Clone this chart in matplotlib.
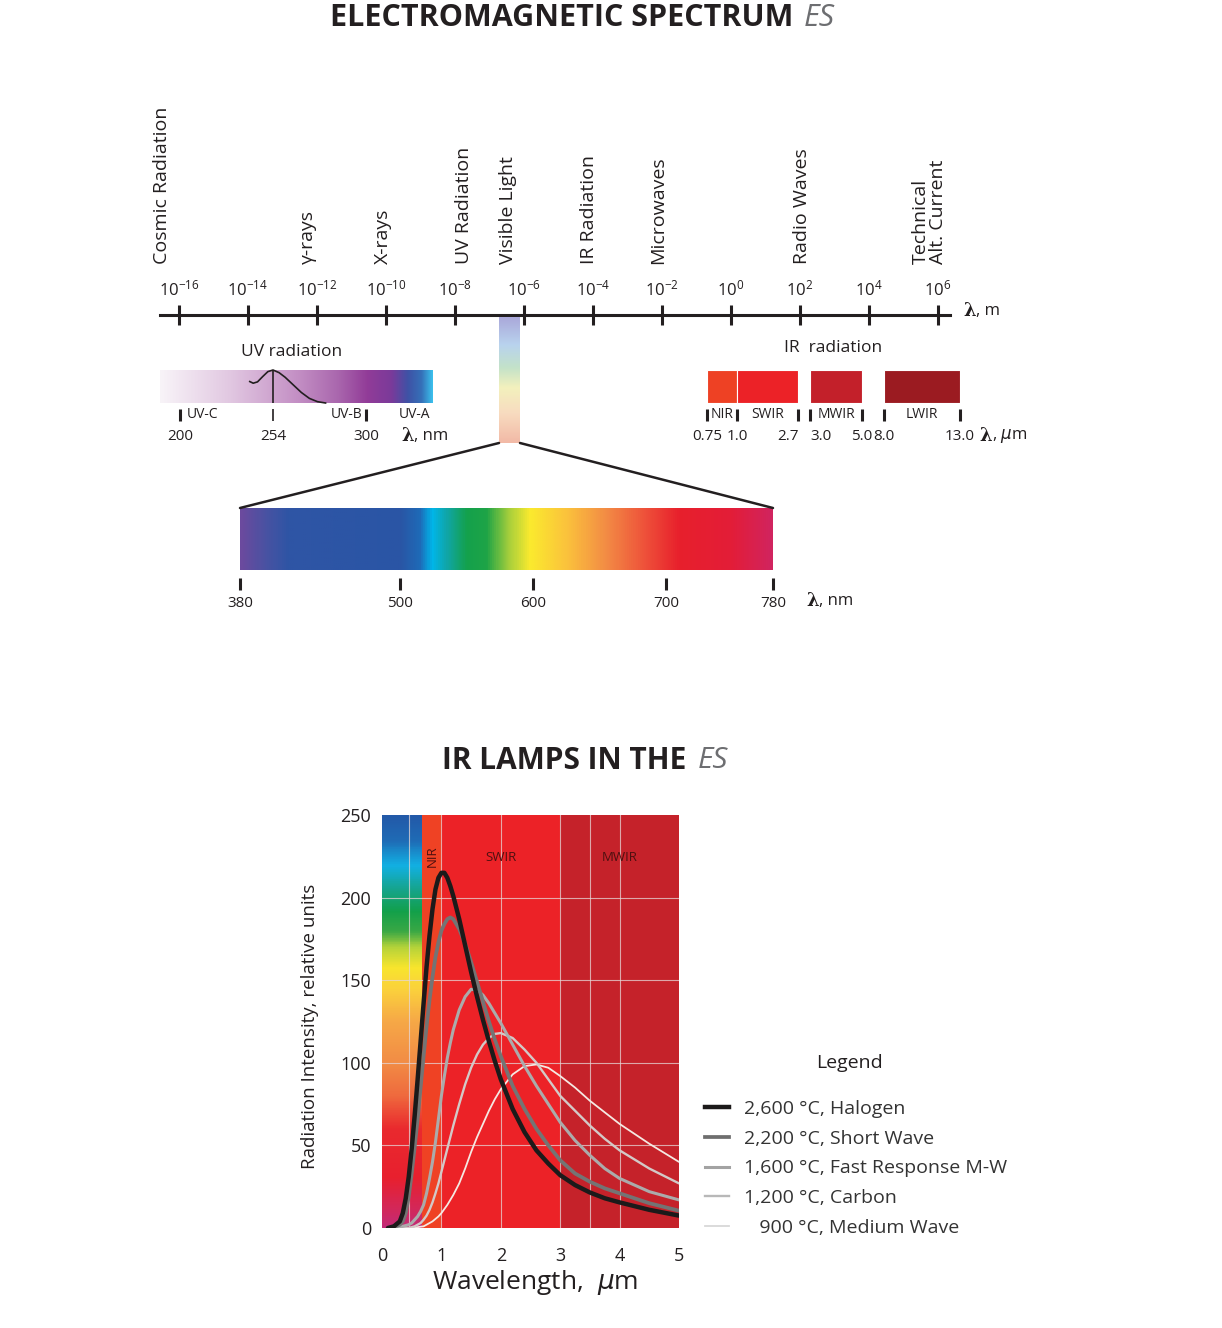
import numpy as np
import matplotlib
matplotlib.use("Agg")
import matplotlib.pyplot as plt
from matplotlib.colors import LinearSegmentedColormap
from matplotlib.patches import ConnectionPatch
from matplotlib.lines import Line2D

plt.rcParams["font.family"] = ["Open Sans", "DejaVu Sans"]

W, H = 1222, 1328
INK = "#231f20"

# ---- spectrum scale (lambda in m, decades)
scale_exponents = [-16, -14, -12, -10, -8, -6, -4, -2, 0, 2, 4, 6]
region_names = ["Cosmic Radiation", "γ-rays", "X-rays", "UV Radiation", "Visible Light",
                "IR Radiation", "Microwaves", "Radio Waves", "Technical\nAlt. Current"]
region_exponents = [-16.5, -12.25, -10.1, -7.75, -6.45, -4.1, -2.1, 2.05, 5.75]

# ---- UV detail
uv_ticks_nm = [200, 254, 300]
uv_band_names = ["UV-C", "UV-B", "UV-A"]
uv_band_nm = [204, 298, 326]
uv_peak_nm = 254
uv_lamp_nm = [240.5, 242.5, 245, 248, 251, 254, 257, 260, 264, 268, 272, 276, 280]
uv_lamp_rel = [0.65, 0.6, 0.64, 0.8, 0.95, 1.0, 0.92, 0.78, 0.55, 0.32, 0.14, 0.04, 0.0]

# ---- IR detail (um)
ir_band_names = ["NIR", "SWIR", "MWIR", "LWIR"]
ir_band_lo = [0.75, 1.0, 3.0, 8.0]
ir_band_hi = [1.0, 2.7, 5.0, 13.0]
ir_ticks_um = [0.75, 1.0, 2.7, 3.0, 5.0, 8.0, 13.0]
ir_tick_labels = ["0.75", "1.0", "2.7", "3.0", "5.0", "8.0", "13.0"]

# ---- visible light (nm)
vis_ticks_nm = [380, 500, 600, 700, 780]

# ---- IR lamps (wavelength um, relative intensity)
lamp_x = [0.1, 0.2, 0.3, 0.35, 0.4, 0.45, 0.5, 0.55, 0.6, 0.65,
          0.7, 0.75, 0.8, 0.85, 0.9, 0.95, 1.0, 1.05, 1.1, 1.15,
          1.2, 1.3, 1.4, 1.5, 1.6, 1.7, 1.8, 1.9, 2.0, 2.2,
          2.4, 2.6, 2.8, 3.0, 3.25, 3.5, 3.75, 4.0, 4.5, 5.0]
halogen_2600 = [0, 1, 4, 9, 18, 31, 48, 68, 90, 113,
                136, 158, 177, 193, 205, 212, 215, 215, 212, 207,
                201, 187, 171, 155, 140, 126, 113, 101, 90, 72,
                58, 47, 39, 32, 26, 21.5, 18, 15.5, 11, 7.5]
short_wave_2200 = [0, 0.5, 2, 4, 9, 19, 33, 49, 66, 85,
                   104, 122, 138, 152, 164, 173, 180, 184, 187, 188,
                   187, 181, 172, 161, 149, 137, 125, 114, 104, 86,
                   72, 60, 50, 41, 33, 28, 24, 21, 15, 10.5]
fast_mw_1600 = [0, 0, 0.5, 1, 1.5, 2, 3, 5, 7, 10,
                14, 21, 30, 40, 52, 66, 80, 92, 103, 112,
                120, 132, 140, 144.5, 144, 141, 136, 130, 124, 111,
                98, 86, 75, 64, 53, 44, 36, 30, 22, 17]
carbon_1200 = [0, 0, 0, 0, 0, 0, 0.5, 1, 2, 3,
               5, 7.5, 11, 15.5, 21, 27, 34, 41, 48, 55,
               62, 75, 87, 97, 105, 111, 115, 117.5, 118, 115,
               108, 100, 90, 80, 71, 62, 54, 47, 36, 27]
medium_wave_900 = [0, 0, 0, 0, 0, 0, 0, 0, 0.5, 0.8,
                   1, 2, 3, 4, 5.5, 7, 9, 11.5, 14, 17,
                   20, 27, 36, 46, 55, 63, 71, 78, 84, 93,
                   98, 99, 97, 92, 85, 77, 70, 63, 51, 40]
lamp_labels = ["2,600 °C, Halogen", "2,200 °C, Short Wave", "1,600 °C, Fast Response M-W",
               "1,200 °C, Carbon", "   900 °C, Medium Wave"]

lamp_band_names = ["NIR", "SWIR", "MWIR"]
lamp_band_lo = [0.68, 1.0, 3.0]
lamp_band_hi = [1.0, 3.0, 5.0]
lamp_band_label_x = [0.84, 2.0, 4.0]
grid_x = [0.45, 1, 2, 3, 3.5, 4]
grid_y = [50, 100, 150, 200]

# ---- layout helpers (pixel boxes)
UV_KNOTS_NM = [189, 200, 254, 300, 336]
UV_KNOTS_PX = [0, 20, 113, 206, 273]
IR_KNOTS_PX = [0, 30, 91, 103, 154, 176, 252]


def box(x0, y0, x1, y1):
    return [x0 / W, 1 - y1 / H, (x1 - x0) / W, (y1 - y0) / H]


def piecewise(src, dst):
    return (lambda v: np.interp(v, src, dst), lambda v: np.interp(v, dst, src))


def gradient_ax(fig, rect, stops, vertical=False):
    ax = fig.add_axes(rect)
    cmap = LinearSegmentedColormap.from_list("g", stops)
    ramp = np.linspace(0, 1, 512)
    img = ramp[:, None] if vertical else ramp[None, :]
    ax.imshow(img, cmap=cmap, aspect="auto", origin="upper" if vertical else "lower",
              extent=(0, 1, 0, 1))
    ax.set_axis_off()
    return ax


def lam_label(fig, px, py, unit, size=13):
    fig.text(px / W, 1 - py / H, "λ", family="DejaVu Serif", fontweight="bold",
             fontsize=size, ha="right", va="center", color=INK)
    fig.text(px / W, 1 - py / H, unit, fontsize=size - 1, ha="left", va="center", color=INK)


def clean(ax, keep=()):
    for s in ["left", "right", "top", "bottom"]:
        if s not in keep:
            ax.spines[s].set_visible(False)
    ax.patch.set_alpha(0)
    ax.set_yticks([])


fig = plt.figure(figsize=(W / 100, H / 100), dpi=100)

# titles
fig.text(793 / W, 1 - 18 / H, "ELECTROMAGNETIC SPECTRUM", ha="right", va="center",
         fontsize=22, fontweight="bold", color=INK)
fig.text(804 / W, 1 - 18 / H, "ES", ha="left", va="center", fontsize=22,
         style="italic", color="#6d6e71")
fig.text(686 / W, 1 - 761 / H, "IR LAMPS IN THE", ha="right", va="center",
         fontsize=21.5, fontweight="bold", color=INK)
fig.text(698 / W, 1 - 761 / H, "ES", ha="left", va="center", fontsize=21.5,
         style="italic", color="#6d6e71")

# ---- main log scale
ax_s = fig.add_axes(box(160, 315, 950, 330))
clean(ax_s, keep=("top",))
ax_s.spines["top"].set_linewidth(2.2)
ax_s.spines["top"].set_color(INK)
ax_s.set_xlim(-16.55, 6.35)
ax_s.xaxis.tick_top()
ax_s.set_xticks(scale_exponents)
ax_s.set_xticklabels([rf"$\mathregular{{10^{{{e}}}}}$" for e in scale_exponents])
ax_s.tick_params(axis="x", direction="inout", length=14, width=2.2, pad=4,
                 labelsize=12, color=INK, labelcolor=INK)
for name, e in zip(region_names, region_exponents):
    ax_s.annotate(name, xy=(e, 1), xycoords=("data", "axes fraction"), xytext=(0, 37),
                  textcoords="offset points", rotation=90, ha="center", va="bottom",
                  ma="left", fontsize=14, color=INK, linespacing=0.95)
lam_label(fig, 976, 311, ", m")

# ---- UV detail
gradient_ax(fig, box(160, 370, 433, 403),
            [(0, "#f8f4f8"), (0.25, "#e2c9e2"), (0.5, "#c490c5"), (0.65, "#aa68ae"),
             (0.76, "#923c98"), (0.85, "#7a3a9a"), (0.91, "#3f52a6"), (0.96, "#3570b8"),
             (1.0, "#3bbfec")])
ax_uv = fig.add_axes(box(160, 370, 433, 403))
clean(ax_uv)
ax_uv.set_xscale("function", functions=piecewise(UV_KNOTS_NM, UV_KNOTS_PX))
ax_uv.plot(uv_lamp_nm, uv_lamp_rel, color=INK, lw=1.2, clip_on=False)
ax_uv.axvline(uv_peak_nm, color=INK, lw=1.2)
ax_uv.set_xlim(189, 336)
ax_uv.set_ylim(0, 1)
ax_uv.spines["bottom"].set_position(("outward", 4))
ax_uv.set_xticks(uv_ticks_nm)
ax_uv.set_xticklabels([str(t) for t in uv_ticks_nm])
ax_uv.tick_params(axis="x", direction="out", length=8.6, width=2.2, pad=6,
                  labelsize=11, color=INK, labelcolor=INK)
ax_uv.xaxis.get_major_ticks()[1].tick1line.set_markeredgewidth(1.2)
for name, nm, ha in zip(uv_band_names, uv_band_nm, ["left", "right", "center"]):
    ax_uv.annotate(name, xy=(nm, 0), xycoords=("data", "axes fraction"), xytext=(0, -8),
                   textcoords="offset points", ha=ha, va="center", fontsize=10, color=INK)
ax_uv.annotate("UV radiation", xy=(263, 1), xycoords=("data", "axes fraction"),
               xytext=(0, 13), textcoords="offset points", ha="center", va="center",
               fontsize=12.5, color=INK)
lam_label(fig, 414, 436, ", nm")

# ---- IR detail
ax_ir = fig.add_axes(box(707, 370, 960, 403))
clean(ax_ir)
fwd_ir, inv_ir = piecewise(ir_ticks_um, IR_KNOTS_PX)
ax_ir.set_xscale("function", functions=(fwd_ir, inv_ir))
ax_ir.barh(0.5, np.subtract(ir_band_hi, ir_band_lo), left=ir_band_lo, height=1,
           color=["#ee4124", "#ec2227", "#c3202a", "#9b1b21"], edgecolor="white", lw=0.8)
ax_ir.set_xlim(0.75, 13.0)
ax_ir.set_ylim(0, 1)
ax_ir.spines["bottom"].set_position(("outward", 4))
ax_ir.set_xticks(ir_ticks_um)
ax_ir.set_xticklabels(ir_tick_labels)
ax_ir.tick_params(axis="x", direction="out", length=8.6, width=2.2, pad=6,
                  labelsize=11, color=INK, labelcolor=INK)
ax_ir.get_xticklabels()[2].set_ha("right")
ax_ir.get_xticklabels()[3].set_ha("left")
for name, lo, hi in zip(ir_band_names, ir_band_lo, ir_band_hi):
    mid = inv_ir((fwd_ir(lo) + fwd_ir(hi)) / 2)
    ax_ir.annotate(name, xy=(mid, 0), xycoords=("data", "axes fraction"), xytext=(0, -8),
                   textcoords="offset points", ha="center", va="center", fontsize=10,
                   color=INK)
ax_ir.annotate("IR  radiation", xy=(0.5, 1), xycoords="axes fraction", xytext=(0, 16),
               textcoords="offset points", ha="center", va="center", fontsize=12.5,
               color=INK)
lam_label(fig, 992, 436, ", $\\mu$m")

# ---- visible light
ax_vs = gradient_ax(fig, box(499, 317, 520, 443),
                    [(0, "#aaa8da"), (0.22, "#b9d3ee"), (0.4, "#c3e2c9"), (0.56, "#f3f1bd"),
                     (0.76, "#f8dcc0"), (1.0, "#f2b9a6")], vertical=True)

vis_stops = [(380, "#6b4a9e"), (398, "#4a52a2"), (415, "#2f55a5"), (500, "#2a55a5"),
             (515, "#1e6bb8"), (524, "#00b6ea"), (535, "#10a6a8"), (550, "#14a14c"),
             (565, "#1ea447"), (582, "#a6cf3c"), (598, "#fbea2e"), (625, "#fbc33c"),
             (655, "#f38c45"), (685, "#ee503a"), (710, "#e8202c"), (750, "#e31d38"),
             (780, "#d1245f")]
ax_vis = fig.add_axes(box(240, 508, 773, 570))
vis_cmap = LinearSegmentedColormap.from_list(
    "vis", [((n - 380) / 400, c) for n, c in vis_stops])
ax_vis.imshow(np.linspace(380, 780, 800)[None, :], cmap=vis_cmap, aspect="auto",
              extent=(380, 780, 0, 1), vmin=380, vmax=780)
clean(ax_vis)
ax_vis.set_xlim(380, 780)
ax_vis.spines["bottom"].set_position(("outward", 6))
ax_vis.set_xticks(vis_ticks_nm)
ax_vis.set_xticklabels([str(t) for t in vis_ticks_nm])
ax_vis.tick_params(axis="x", direction="out", length=8.6, width=2.2, pad=4,
                   labelsize=11, color=INK, labelcolor=INK)
lam_label(fig, 819, 601, ", nm")
for xa in (0, 1):
    fig.add_artist(ConnectionPatch(xyA=(xa, 0), coordsA=ax_vs.transAxes, xyB=(xa, 1),
                                   coordsB=ax_vis.transAxes, color=INK, lw=1.8))

# ---- IR lamps chart
ax = fig.add_axes(box(382, 815, 679, 1228))
col_stops = [(0, "#c32b78"), (10, "#d2285c"), (30, "#e8202e"), (60, "#ea2a2e"),
             (80, "#ef6a3e"), (100, "#f28c45"), (125, "#f6a847"), (145, "#fbd23c"),
             (158, "#f8e52d"), (170, "#b5d33a"), (180, "#3aa845"), (192, "#12a04a"),
             (205, "#16a48a"), (220, "#12b0e3"), (235, "#1f6cb6"), (250, "#2359a8")]
col_cmap = LinearSegmentedColormap.from_list("col", [(v / 250, c) for v, c in col_stops])
ax.imshow(np.linspace(0, 250, 500)[:, None], cmap=col_cmap, origin="lower", aspect="auto",
          extent=(0, lamp_band_lo[0], 0, 250), vmin=0, vmax=250)
for lo, hi, c in zip(lamp_band_lo, lamp_band_hi, ["#ef4224", "#ec2227", "#c5222a"]):
    ax.axvspan(lo, hi, color=c, lw=0)
for g in grid_x:
    ax.axvline(g, color="#e6d6d6", lw=0.8, alpha=0.75)
for g in grid_y:
    ax.axhline(g, color="#e6d6d6", lw=0.8, alpha=0.75)
for name, xpos in zip(lamp_band_names, lamp_band_label_x):
    ax.text(xpos, 225 if name == "NIR" else 224, name, rotation=90 if name == "NIR" else 0,
            ha="center", va="center", fontsize=9.5, color="#4e1010")

series = [halogen_2600, short_wave_2200, fast_mw_1600, carbon_1200, medium_wave_900]
line_colors = ["#1c1a1a", "#747474", "#ababab", "#d3c9c7", "#f5e8e2"]
line_widths = [3.2, 2.7, 2.2, 1.7, 1.3]
legend_colors = ["#1c1a1a", "#6e6e6e", "#a3a3a3", "#b8b8b8", "#d8d8d8"]
for ys, c, lw in zip(series[::-1], line_colors[::-1], line_widths[::-1]):
    ax.plot(lamp_x, ys, color=c, lw=lw, solid_capstyle="round", solid_joinstyle="round")

ax.set_xlim(0, 5)
ax.set_ylim(0, 250)
for s in ax.spines.values():
    s.set_visible(False)
ax.set_xticks([0, 1, 2, 3, 4, 5])
ax.set_yticks([0, 50, 100, 150, 200, 250])
ax.tick_params(length=0, labelsize=13, labelcolor=INK)
ax.tick_params(axis="x", pad=14)
ax.tick_params(axis="y", pad=8)
ax.set_xlabel("Wavelength,  $\\mu$m", fontsize=19, color=INK)
ax.set_ylabel("Radiation Intensity, relative units", fontsize=13.5, color=INK)
ax.xaxis.set_label_coords(0.515, -0.098)
ax.yaxis.set_label_coords(-0.212, 0.487)

fig.text(850 / W, 1 - 1063 / H, "Legend", ha="center", va="center", fontsize=14,
         color=INK)
handles = [Line2D([], [], color=c, lw=lw) for c, lw in zip(legend_colors, line_widths)]
leg = fig.legend(handles, lamp_labels, loc="upper left", bbox_to_anchor=(705 / W, 1 - 1100 / H),
                 frameon=False, fontsize=14, handlelength=1.25, handletextpad=0.75,
                 labelspacing=0.6, borderpad=0, borderaxespad=0)
for t in leg.get_texts():
    t.set_color("#333333")

fig.savefig("out.png", dpi=100)
